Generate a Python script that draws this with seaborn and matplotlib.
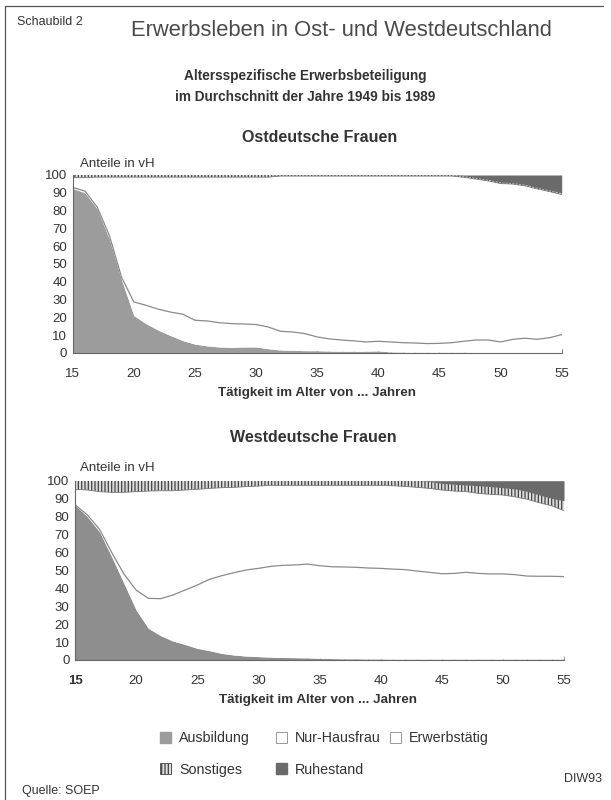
import matplotlib
matplotlib.use("Agg")
import matplotlib.pyplot as plt
from matplotlib.patches import Patch
from matplotlib.lines import Line2D
from matplotlib.ticker import MultipleLocator
import seaborn as sns
import pandas as pd

sns.set_style("ticks")
plt.rcParams['font.family'] = ['Liberation Sans', 'DejaVu Sans']
plt.rcParams['hatch.linewidth'] = 0.9

ages = list(range(15, 56))

# --- Ostdeutsche Frauen (Anteile in vH) ---
ost_ausbildung = [92.5, 90, 81, 64, 41, 21, 16.5, 12.8, 9.8, 7, 5, 4, 3.4, 3.2, 3.4, 3.4, 2.4, 1.7, 1.5, 1.3,
                  1.3, 1.1, 1.0, 1.0, 1.0, 1.2, 0.6, 0.5, 0.4, 0.4, 0.4, 0.4, 0.4, 0.3, 0.3, 0.3, 0.3, 0.3, 0.3, 0.3, 0.3]
ost_hausfrau = [0.5, 1, 1, 2, 1.5, 7.7, 10.3, 11.8, 13.2, 14.8, 13.4, 14, 13.6, 13.3, 12.9, 12.6, 12.2, 10.5, 10.3, 9.6,
                7.7, 6.8, 6.3, 5.8, 5.2, 5.4, 5.6, 5.3, 5.2, 4.9, 5.0, 5.4, 6.2, 7.0, 7.0, 5.9, 7.4, 8.0, 7.4, 8.3, 10.0]
ost_erwerb = [5.5, 7.5, 16.8, 32.8, 56.3, 70.1, 72.0, 74.2, 75.8, 77.0, 80.4, 80.8, 81.8, 82.3, 82.5, 82.8, 84.2, 87.2,
              87.6, 88.5, 90.4, 91.5, 92.1, 92.6, 93.2, 92.8, 93.2, 93.6, 93.8, 94.1, 94.0, 93.6, 92.1, 90.4, 89.4, 89.0,
              87.2, 85.6, 84.5, 82.1, 78.7]
ost_sonstiges = [1.5, 1.5, 1.2, 1.2, 1.2, 1.2, 1.2, 1.2, 1.2, 1.2, 1.2, 1.2, 1.2, 1.2, 1.2, 1.2, 1.2, 0.6, 0.6, 0.6,
                 0.6, 0.6, 0.6, 0.6, 0.6, 0.6, 0.6, 0.6, 0.6, 0.6, 0.6, 0.6, 0.8, 0.8, 0.8, 0.8, 0.8, 0.8, 0.8, 0.8, 1.0]
ost_ruhestand = [0] * 32 + [0.5, 1.5, 2.5, 4, 4.3, 5.3, 7, 8.5, 10]

# --- Westdeutsche Frauen (Anteile in vH) ---
west_ausbildung = [86.4, 80, 71.6, 57.6, 42.8, 27.9, 17.7, 13.6, 10.6, 8.7, 6.5, 5.2, 3.7, 2.8, 2.2, 1.9, 1.6, 1.4,
                   1.3, 1.2, 1.0, 0.8, 0.7, 0.7, 0.6, 0.6, 0.5, 0.5, 0.5, 0.5, 0.5, 0.5, 0.5, 0.5, 0.5, 0.5, 0.5, 0.5,
                   0.5, 0.5, 0.5]
west_hausfrau = [0.2, 1.0, 1.4, 2.4, 5.2, 11.1, 16.7, 20.6, 25.6, 30.3, 35.3, 39.8, 43.3, 45.9, 48.0, 49.2, 50.6, 51.4,
                 51.7, 52.3, 51.6, 51.2, 51.2, 51.0, 50.7, 50.5, 50.2, 49.9, 49.1, 48.4, 47.6, 47.8, 48.4, 47.8, 47.5,
                 47.5, 47.1, 46.3, 46.2, 46.2, 46.0]
west_erwerb = [8.6, 13.8, 20.9, 33.5, 45.5, 54.9, 59.8, 60.2, 58.2, 55.8, 53.4, 50.7, 49.1, 47.6, 46.5, 45.9, 45.2,
               44.6, 44.4, 43.9, 44.8, 45.4, 45.5, 45.7, 46.1, 46.3, 46.5, 46.4, 46.7, 46.8, 46.7, 45.9, 45.0, 44.6,
               44.4, 44.0, 43.4, 42.8, 41.0, 39.3, 36.8]
west_sonstiges = [4.8, 5.2, 6.1, 6.5, 6.5, 6.1, 5.8, 5.6, 5.6, 5.2, 4.8, 4.3, 3.9, 3.7, 3.3, 3.0, 2.6, 2.6, 2.6, 2.6,
                  2.6, 2.6, 2.6, 2.6, 2.6, 2.6, 2.8, 3.2, 3.7, 3.8, 3.7, 3.8, 3.7, 4.3, 4.3, 4.1, 4.4, 4.4, 4.3, 4.1, 5.5]
west_ruhestand = [0] * 29 + [0.5, 1.5, 2, 2.4, 2.8, 3.3, 3.9, 4.6, 6, 8, 9.9, 11.2]

labels = ["Ausbildung", "Nur-Hausfrau", "Erwerbstätig", "Sonstiges", "Ruhestand"]
yticks = [0, 10, 20, 30, 40, 50, 60, 70, 80, 90, 100]
xticks = [15, 20, 25, 30, 35, 40, 45, 50, 55]

col_ausb = "#9c9c9c"
col_white = "#ffffff"
col_sonst = "#dcdcdc"
col_ruhe = "#6a6a6a"
txt = "#333333"

W, H = 611, 800
fig = plt.figure(figsize=(W / 100, H / 100), dpi=100)
fig.patch.set_facecolor("white")


def fx(px):
    return px / W


def fy(py):
    return 1 - py / H


def draw_panel(ax, ausb, haus, erw, sonst, ruhe, ausb_col, bold15=False):
    polys = ax.stackplot(ages, ausb, haus, erw, sonst, ruhe,
                         colors=[ausb_col, col_white, col_white, col_sonst, col_ruhe],
                         linewidth=0)
    polys[3].set_hatch("|||||")
    polys[3].set_edgecolor("#444444")
    df = pd.DataFrame({"age": ages,
                       "line1": [a + b for a, b in zip(ausb, haus)],
                       "line2": [a + b + c for a, b, c in zip(ausb, haus, erw)]})
    sns.lineplot(data=df, x="age", y="line1", ax=ax, color="#8a8a8a", linewidth=0.9)
    sns.lineplot(data=df, x="age", y="line2", ax=ax, color="#777777", linewidth=0.6)
    ax.set_xlim(15, 55)
    ax.set_ylim(0, 100)
    ax.set_xticks(xticks)
    ax.set_yticks(yticks)
    ax.xaxis.set_minor_locator(MultipleLocator(1))
    ax.tick_params(axis="both", which="major", direction="in", length=3, width=0.7,
                   labelsize=9.5, colors="#555555", labelcolor=txt, pad=4)
    ax.tick_params(axis="x", which="minor", direction="in", length=2, width=0.6, colors="#666666")
    ax.tick_params(axis="x", pad=11)
    if bold15:
        ax.get_xticklabels()[0].set_fontweight("bold")
    ax.set_xlabel("")
    ax.set_ylabel("")
    for s in ["top", "right"]:
        ax.spines[s].set_visible(False)
    for s in ["left", "bottom"]:
        ax.spines[s].set_color("#666666")
        ax.spines[s].set_linewidth(0.8)
    ax.set_facecolor("white")


ax1 = fig.add_axes([fx(72.7), fy(353), fx(561.7 - 72.7), (353 - 175) / H])
draw_panel(ax1, ost_ausbildung, ost_hausfrau, ost_erwerb, ost_sonstiges, ost_ruhestand, col_ausb)

ax2 = fig.add_axes([fx(75), fy(660), fx(564 - 75), (660 - 480.7) / H])
draw_panel(ax2, west_ausbildung, west_hausfrau, west_erwerb, west_sonstiges, west_ruhestand, "#8e8e8e",
           bold15=True)

# Texts
fig.text(fx(17), fy(22), "Schaubild 2", fontsize=9, color=txt, va="center", ha="left")
fig.text(fx(341), fy(30), "Erwerbsleben in Ost- und Westdeutschland", fontsize=15.8, color="#4a4a4a",
         va="center", ha="center")
fig.text(fx(305), fy(76), "Altersspezifische Erwerbsbeteiligung", fontsize=9.8, color=txt,
         va="center", ha="center", fontweight="bold")
fig.text(fx(305), fy(97), "im Durchschnitt der Jahre 1949 bis 1989", fontsize=9.8, color=txt,
         va="center", ha="center", fontweight="bold")
fig.text(fx(320), fy(137), "Ostdeutsche Frauen", fontsize=11.5, color=txt, va="center", ha="center",
         fontweight="bold")
fig.text(fx(80), fy(164), "Anteile in vH", fontsize=9.5, color=txt, va="center", ha="left")
fig.text(fx(317), fy(393), "Tätigkeit im Alter von ... Jahren", fontsize=9.6, color=txt, va="center",
         ha="center", fontweight="bold")
fig.text(fx(313), fy(437), "Westdeutsche Frauen", fontsize=11.5, color=txt, va="center", ha="center",
         fontweight="bold")
fig.text(fx(80), fy(468), "Anteile in vH", fontsize=9.5, color=txt, va="center", ha="left")
fig.text(fx(318), fy(700), "Tätigkeit im Alter von ... Jahren", fontsize=9.6, color=txt, va="center",
         ha="center", fontweight="bold")
fig.text(fx(22), fy(791), "Quelle: SOEP", fontsize=9, color=txt, va="center", ha="left")
fig.text(fx(602), fy(779), "DIW93", fontsize=9, color=txt, va="center", ha="right")

# Legend (three columns, filled row by row)
handles = {
    "Ausbildung": Patch(facecolor=col_ausb, edgecolor=col_ausb),
    "Nur-Hausfrau": Patch(facecolor="white", edgecolor="#888888", linewidth=0.6),
    "Erwerbstätig": Patch(facecolor="white", edgecolor="#888888", linewidth=0.6),
    "Sonstiges": Patch(facecolor=col_sonst, edgecolor="#444444", hatch="|||||", linewidth=0.6),
    "Ruhestand": Patch(facecolor=col_ruhe, edgecolor=col_ruhe),
}
columns = [(["Ausbildung", "Sonstiges"], 160), (["Nur-Hausfrau", "Ruhestand"], 276), (["Erwerbstätig"], 390)]
for names, xpx in columns:
    leg = fig.legend([handles[n] for n in names], names, loc="upper left",
                     bbox_to_anchor=(fx(xpx), fy(731)), frameon=False, fontsize=10.3,
                     handlelength=0.8, handleheight=0.8, handletextpad=0.55,
                     labelspacing=1.25, borderaxespad=0, borderpad=0)
    for t in leg.get_texts():
        t.set_color(txt)

# Frame lines (left and top border)
fig.add_artist(Line2D([fx(5), fx(5)], [fy(6), fy(800)], color="#555555", linewidth=0.9))
fig.add_artist(Line2D([fx(5), fx(603)], [fy(6), fy(6)], color="#555555", linewidth=0.9))

fig.savefig("out.png", dpi=100, facecolor="white")
